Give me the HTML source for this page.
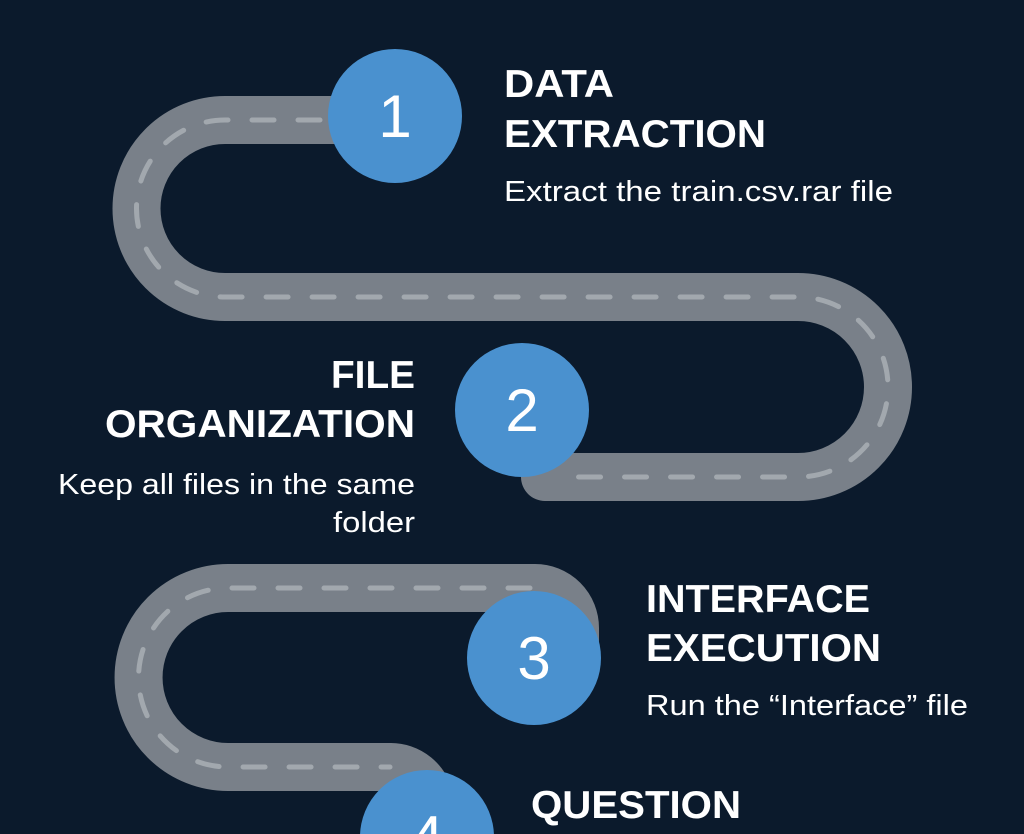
<!DOCTYPE html>
<html><head><meta charset="utf-8"><style>
html,body{margin:0;padding:0;background:#0b1a2c;width:1024px;height:834px;overflow:hidden;}
svg{display:block}
text{font-family:"Liberation Sans",sans-serif;fill:#fff}
.h{font-weight:bold;font-size:39px}
.s{font-size:29px}
</style></head><body>
<svg width="1024" height="834" viewBox="0 0 1024 834">
<rect width="1024" height="834" fill="#0b1a2c"/>
<g fill="none" stroke-linecap="round">
<path d="M340 120 H225 A88.5 88.5 0 0 0 225 297 H798 A90 90 0 0 1 798 477 H545" stroke="#798089" stroke-width="48"/>
<path d="M320 120 H225 A88.5 88.5 0 0 0 225 297 H798 A90 90 0 0 1 798 477 H565" stroke="#a2a8ae" stroke-width="5" stroke-dasharray="22 24"/>
<path d="M575 640 V628 A40 40 0 0 0 535 588 H228 A89.5 89.5 0 0 0 228 767 H390 A40 40 0 0 1 430 800" stroke="#798089" stroke-width="48"/>
<path d="M530 588 H228 A89.5 89.5 0 0 0 228 767 H390" stroke="#a2a8ae" stroke-width="5" stroke-dasharray="22 24"/>
</g>
<g fill="#4a91cf">
<circle cx="395" cy="116" r="67"/>
<circle cx="522" cy="410" r="67"/>
<circle cx="534" cy="658" r="67"/>
<circle cx="427" cy="837" r="67"/>
</g>
<g font-family="Liberation Sans" font-size="60" text-anchor="middle">
<text x="395" y="137">1</text>
<text x="522" y="431">2</text>
<text x="534" y="679">3</text>
<text x="427" y="858">4</text>
</g>
<text class="h" x="504" y="97" textLength="110" lengthAdjust="spacingAndGlyphs">DATA</text>
<text class="h" x="504" y="147" textLength="262" lengthAdjust="spacingAndGlyphs">EXTRACTION</text>
<text class="s" x="504" y="201" textLength="389" lengthAdjust="spacingAndGlyphs">Extract the train.csv.rar file</text>
<text class="h" x="331" y="388" textLength="84" lengthAdjust="spacingAndGlyphs">FILE</text>
<text class="h" x="105" y="437" textLength="310" lengthAdjust="spacingAndGlyphs">ORGANIZATION</text>
<text class="s" x="58" y="494" textLength="357" lengthAdjust="spacingAndGlyphs">Keep all files in the same</text>
<text class="s" x="333" y="532" textLength="82" lengthAdjust="spacingAndGlyphs">folder</text>
<text class="h" x="646" y="612" textLength="224" lengthAdjust="spacingAndGlyphs">INTERFACE</text>
<text class="h" x="646" y="661" textLength="235" lengthAdjust="spacingAndGlyphs">EXECUTION</text>
<text class="s" x="646" y="715" textLength="322" lengthAdjust="spacingAndGlyphs">Run the “Interface” file</text>
<text class="h" x="531" y="818" textLength="210" lengthAdjust="spacingAndGlyphs">QUESTION</text>
</svg>
</body></html>
